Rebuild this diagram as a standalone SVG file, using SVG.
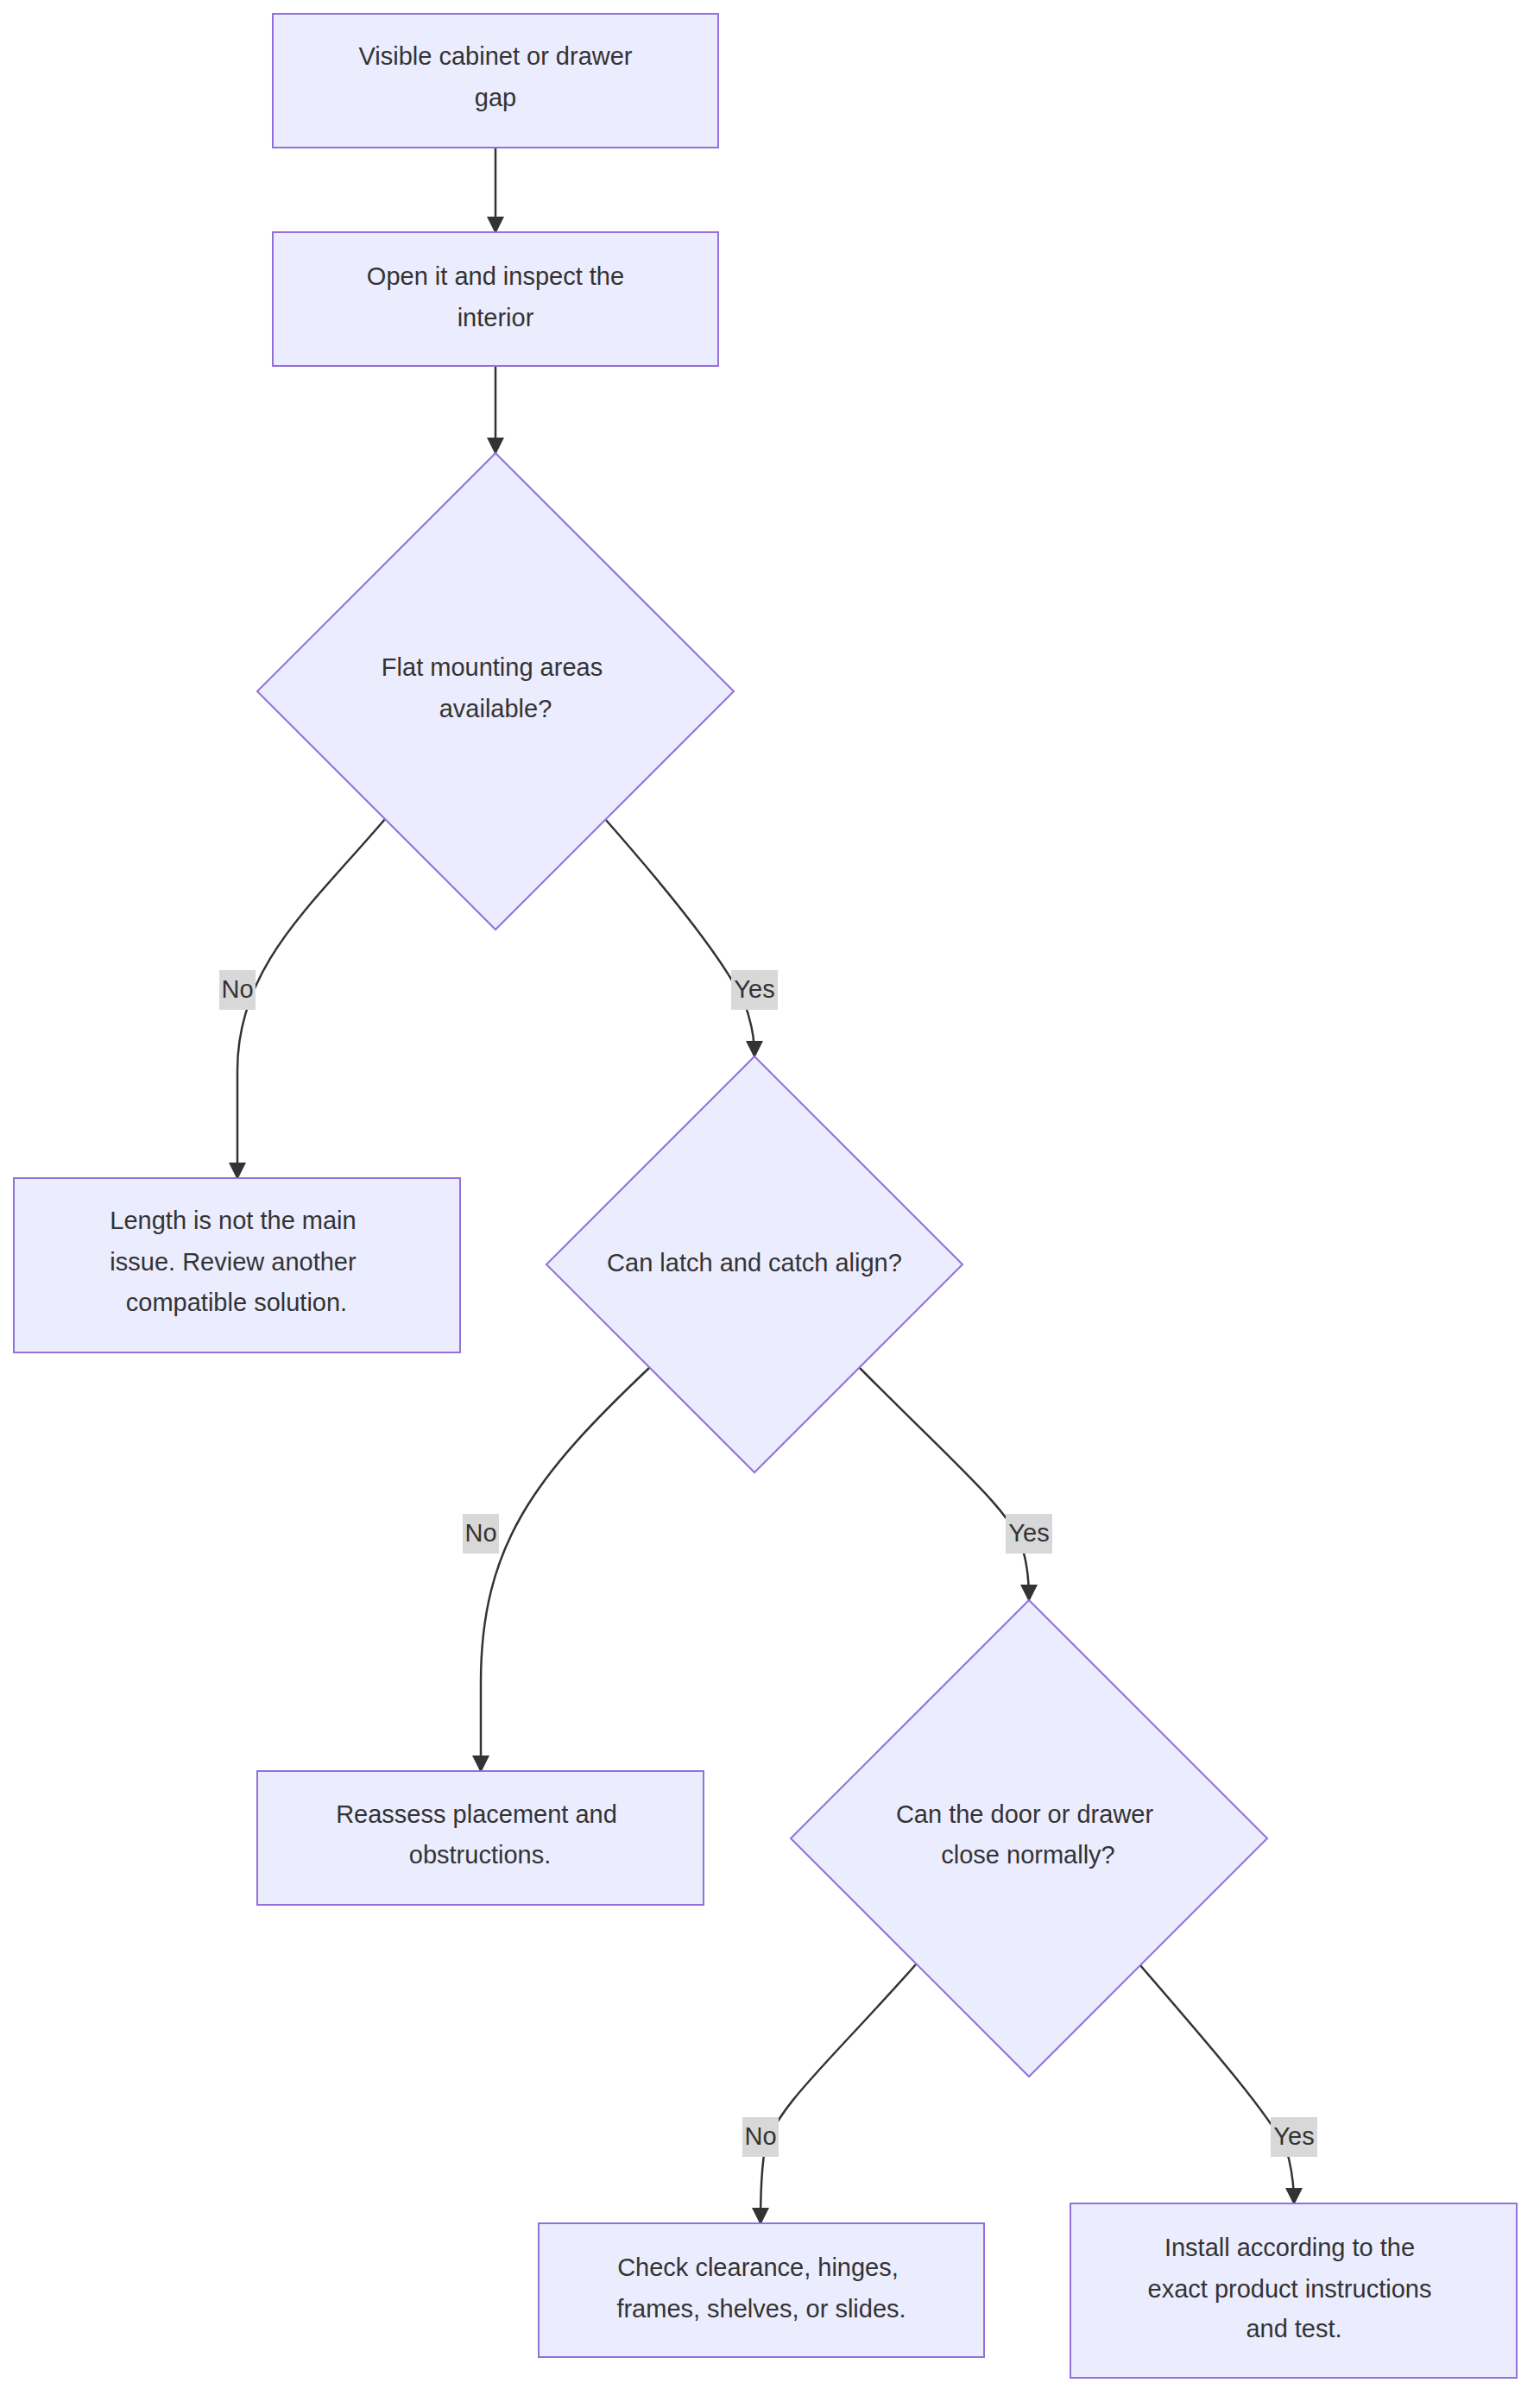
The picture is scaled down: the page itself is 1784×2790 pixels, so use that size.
<svg xmlns="http://www.w3.org/2000/svg" width="1784" height="2790" viewBox="0 0 1784 2790">
<style>
.n{fill:#ECECFF;stroke:#9370DB;stroke-width:2}
.t{font-family:"Liberation Sans",Arial,sans-serif;font-size:29px;fill:#333;text-anchor:middle;dominant-baseline:middle}
.e{fill:none;stroke:#333;stroke-width:2.5}
.lb{fill:#d8d8d8}
</style>
<defs><marker id="a" viewBox="0 0 10 10" refX="9" refY="5" markerWidth="8" markerHeight="8" orient="auto"><path d="M0,0L10,5L0,10z" fill="#333"/></marker></defs>
<rect width="1784" height="2790" fill="#fff"/>
<g id="edges">
<path class="e" marker-end="url(#a)" d="M574,171L574,269"/>
<path class="e" marker-end="url(#a)" d="M574,424L574,525"/>
<path class="e" marker-end="url(#a)" d="M446,949C360,1050 275,1120 275,1240L275,1365"/>
<path class="e" marker-end="url(#a)" d="M701,949C790,1050 860,1140 868,1180Q874,1200 874,1224"/>
<path class="e" marker-end="url(#a)" d="M753,1584C620,1710 557,1790 557,1950L557,2052"/>
<path class="e" marker-end="url(#a)" d="M995,1584C1110,1700 1170,1750 1183,1790Q1192,1815 1192,1854"/>
<path class="e" marker-end="url(#a)" d="M1061,2276C960,2390 900,2440 886,2490Q881,2520 881,2576"/>
<path class="e" marker-end="url(#a)" d="M1320,2276C1410,2380 1470,2450 1490,2490Q1499,2520 1499,2553"/>
<rect class="lb" x="254" y="1124" width="42" height="46"/><text class="t" x="275" y="1148">No</text>
<rect class="lb" x="847" y="1124" width="54" height="46"/><text class="t" x="874" y="1148">Yes</text>
<rect class="lb" x="536" y="1754" width="42" height="46"/><text class="t" x="557" y="1778">No</text>
<rect class="lb" x="1165" y="1754" width="54" height="46"/><text class="t" x="1192" y="1778">Yes</text>
<rect class="lb" x="860" y="2453" width="42" height="46"/><text class="t" x="881" y="2477">No</text>
<rect class="lb" x="1472" y="2453" width="54" height="46"/><text class="t" x="1499" y="2477">Yes</text>
</g>
<g id="n1"><rect class="n" x="316" y="16" width="516" height="155"/><text class="t" x="574" y="67">Visible cabinet or drawer</text><text class="t" x="574" y="115">gap</text></g>
<g id="n2"><rect class="n" x="316" y="269" width="516" height="155"/><text class="t" x="574" y="322">Open it and inspect the</text><text class="t" x="574" y="370">interior</text></g>
<g id="d1"><polygon class="n" points="574,525 850,801 574,1077 298,801"/><text class="t" x="570" y="775">Flat mounting areas</text><text class="t" x="574" y="823">available?</text></g>
<g id="n3"><rect class="n" x="16" y="1365" width="517" height="202"/><text class="t" x="270" y="1416">Length is not the main</text><text class="t" x="270" y="1464">issue. Review another</text><text class="t" x="274" y="1511">compatible solution.</text></g>
<g id="d2"><polygon class="n" points="874,1224 1115,1465 874,1706 633,1465"/><text class="t" x="874" y="1465">Can latch and catch align?</text></g>
<g id="n4"><rect class="n" x="298" y="2052" width="517" height="155"/><text class="t" x="552" y="2104">Reassess placement and</text><text class="t" x="556" y="2151">obstructions.</text></g>
<g id="d3"><polygon class="n" points="1192,1854 1468,2130 1192,2406 916,2130"/><text class="t" x="1187" y="2104">Can the door or drawer</text><text class="t" x="1191" y="2151">close normally?</text></g>
<g id="n5"><rect class="n" x="624" y="2576" width="516" height="155"/><text class="t" x="878" y="2629">Check clearance, hinges,</text><text class="t" x="882" y="2677">frames, shelves, or slides.</text></g>
<g id="n6"><rect class="n" x="1240" y="2553" width="517" height="202"/><text class="t" x="1494" y="2606">Install according to the</text><text class="t" x="1494" y="2654">exact product instructions</text><text class="t" x="1499" y="2700">and test.</text></g>
</svg>
